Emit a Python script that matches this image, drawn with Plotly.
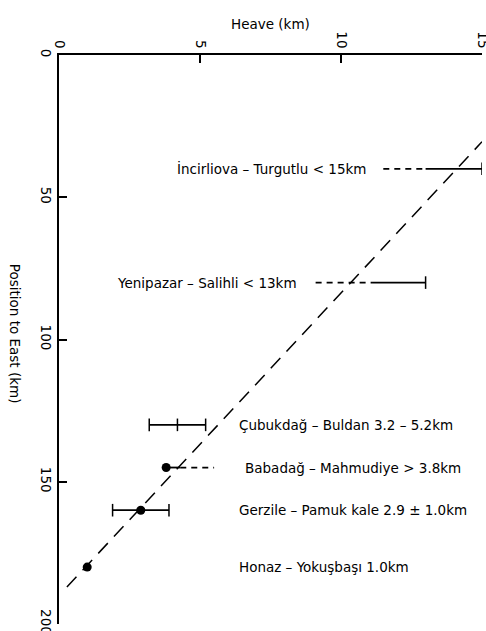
import plotly.graph_objects as go

# ---------------- data ----------------
sites = [
    "İncirliova – Turgutlu < 15km",
    "Yenipazar – Salihli < 13km",
    "Çubukdağ – Buldan 3.2 – 5.2km",
    "Babadağ – Mahmudiye > 3.8km",
    "Gerzile – Pamuk kale 2.9 ± 1.0km",
    "Honaz – Yokuşbaşı 1.0km",
]
position_km = [40, 80, 130, 145, 160, 180]

solid_lo = [13.0, 11.1, 3.2, 3.8, 1.9, None]
solid_hi = [15.0, 13.0, 5.2, 4.3, 3.9, None]
dash_lo = [11.5, 9.1, None, 4.3, None, None]
dash_hi = [13.0, 11.1, None, 5.5, None, None]
cap_heave = [[15.0], [13.0], [3.2, 4.2, 5.2], [], [1.9, 3.9], []]
point_heave = [None, None, None, 3.8, 2.9, 1.0]

fit_heave = [0.28, 15.0]
fit_position = [187.0, 30.5]

x_ticks = [0, 5, 10, 15]
y_ticks = [0, 50, 100, 150, 200]

# label placement (heave km of left edge of each label)
label_x = [4.11, 1.99, 6.31, 6.52, 6.31, 6.31]

FONT = "DejaVu Sans"

fig = go.Figure()

# fitted dashed line
fig.add_trace(go.Scatter(
    x=fit_heave, y=fit_position, mode="lines",
    line=dict(color="black", width=1.5, dash="14px,9px"),
    hoverinfo="skip"))

for i in range(len(sites)):
    y = position_km[i]
    if solid_lo[i] is not None:
        fig.add_trace(go.Scatter(
            x=[solid_lo[i], solid_hi[i]], y=[y, y], mode="lines",
            line=dict(color="black", width=1.8), hoverinfo="skip"))
    if dash_lo[i] is not None:
        fig.add_trace(go.Scatter(
            x=[dash_lo[i], dash_hi[i]], y=[y, y], mode="lines",
            line=dict(color="black", width=1.8, dash="6px,5px"), hoverinfo="skip"))
    if cap_heave[i]:
        fig.add_trace(go.Scatter(
            x=cap_heave[i], y=[y] * len(cap_heave[i]), mode="markers",
            marker=dict(symbol="line-ns-open", size=9, color="black",
                        line=dict(color="black", width=1.5)),
            hoverinfo="skip"))
    if point_heave[i] is not None:
        fig.add_trace(go.Scatter(
            x=[point_heave[i]], y=[y], mode="markers",
            marker=dict(symbol="circle", size=9, color="black"),
            hoverinfo="skip"))
    fig.add_annotation(
        x=label_x[i], y=y, xref="x", yref="y", text=sites[i],
        showarrow=False, xanchor="left", yanchor="middle",
        font=dict(family=FONT, size=13.5, color="black"))

fig.add_annotation(
    x=0.5, y=1.055, xref="paper", yref="paper", text="Heave (km)",
    showarrow=False, xanchor="center", yanchor="middle",
    font=dict(family=FONT, size=13.5, color="black"))
fig.add_annotation(
    x=-0.104, y=0.51, xref="paper", yref="paper", text="Position to East (km)",
    showarrow=False, textangle=90, xanchor="center", yanchor="middle",
    font=dict(family=FONT, size=13.5, color="black"))

fig.update_layout(
    width=486, height=631,
    margin=dict(l=59, r=4, t=55, b=7, autoexpand=False),
    paper_bgcolor="white", plot_bgcolor="white",
    showlegend=False,
    font=dict(family=FONT, size=13, color="black"),
    xaxis=dict(
        range=[0, 15], side="top", tickvals=x_ticks, tickangle=90,
        showline=True, linecolor="black", linewidth=1.5,
        ticks="inside", ticklen=8, tickwidth=1.5, tickcolor="black",
        showgrid=False, zeroline=False, fixedrange=True,
        ticklabeloverflow="allow", automargin=False,
        tickfont=dict(family=FONT, size=13.5, color="black")),
    yaxis=dict(
        range=[200, 0], tickvals=y_ticks, tickangle=90,
        showline=True, linecolor="black", linewidth=1.5,
        ticks="inside", ticklen=8, tickwidth=1.5, tickcolor="black",
        showgrid=False, zeroline=False, fixedrange=True,
        ticklabeloverflow="allow", automargin=False,
        tickfont=dict(family=FONT, size=13.5, color="black")),
)

fig.write_html("out.html")
